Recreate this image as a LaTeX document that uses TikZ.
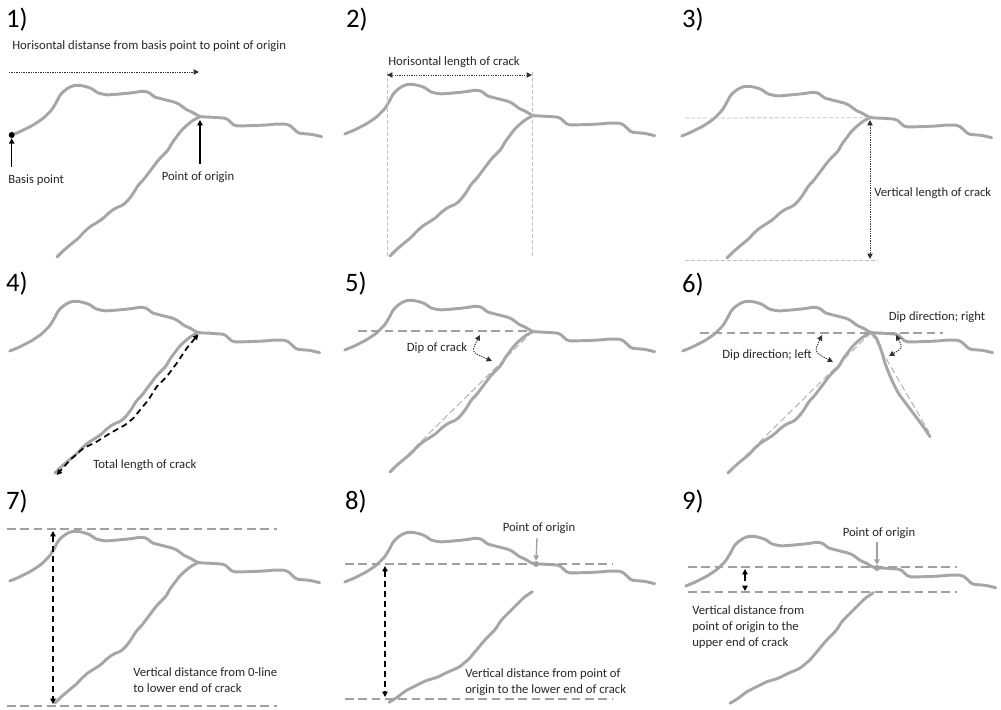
\documentclass[tikz,border=0pt]{standalone}
\usepackage{fontspec}
\setmainfont{Carlito}
\usetikzlibrary{arrows.meta}
\definecolor{crackgray}{RGB}{166,166,166}
\definecolor{guidegray}{RGB}{160,160,160}
\definecolor{lightguide}{RGB}{192,192,192}
\definecolor{txtcol}{RGB}{38,38,38}
\tikzset{
  surface/.pic={\draw[crack] (11.7,135) -- (20,131.7) -- (33.3,125) -- (43.3,118.3) -- (51.7,110) -- (56.7,101.7) -- (60,95) -- (65,90) -- (71.7,86) -- (78.3,85) -- (86.7,86.7) -- (93.3,89.3) -- (96.7,92.7) -- (106.7,95) -- (116.7,94.3) -- (133.3,92.7) -- (143.3,91) -- (150,92.7) -- (153.3,96.7) -- (163.3,99.3) -- (176.7,102.7) -- (181.7,106) -- (186.7,110) -- (191.7,111.7) -- (196.7,115) -- (200,116.7) -- (213.3,117.3) -- (226.7,118.3) -- (230,121.7) -- (235,126) -- (250,125.7) -- (266.7,125) -- (276.7,124) -- (288.3,124.3) -- (293.3,128.3) -- (298.3,133.3) -- (311.7,134.3) -- (321.7,136.7);},
  longcrack/.pic={\draw[crack] (200,116.7) -- (193.3,120) -- (188.3,124) -- (181.7,130) -- (176.7,136.7) -- (171.7,143.3) -- (168.3,150) -- (163.3,155) -- (158.3,160) -- (153.3,166.7) -- (148.3,173.3) -- (143.3,180) -- (138.3,185) -- (133.3,193.3) -- (128.3,200) -- (123.3,205) -- (115,208.3) -- (108.3,213.3) -- (103.3,218.3) -- (96.7,222.7) -- (90,226.7) -- (83.3,232.7) -- (78.3,238.3) -- (70,245) -- (63,251) -- (57,257);},
  shortcrack/.pic={\draw[crack] (199.3,141.7) -- (191,147.3) -- (182.7,155.7) -- (174.3,164) -- (167.7,170.7) -- (162.7,179) -- (152.7,189) -- (144.3,199) -- (136,209) -- (126,217.3) -- (114.3,222.3) -- (104.3,227.3) -- (92.7,230.7) -- (82.7,235.7) -- (72.7,240.7) -- (64.3,247.3) -- (56,252.3);},
  rightcrack/.pic={\draw[crack] (200,116.7) -- (205.7,122.3) -- (209,130.7) -- (211.7,139) -- (214,147.3) -- (217.3,155.7) -- (220.7,164) -- (224,170.7) -- (227.3,177.3) -- (232.3,184) -- (237.3,190.7) -- (242.3,197.3) -- (247.3,204) -- (252.3,210.7) -- (255.7,215.7) -- (259,220.7);}
}
\begin{document}
\begin{tikzpicture}[x=0.75pt,y=-0.75pt,
  >={Triangle[length=4pt,width=4pt]},
  crack/.style={draw=crackgray,line width=2.2pt,line join=round,line cap=round,rounded corners=1.5pt},
  guide/.style={draw=guidegray,line width=1.1pt,dash pattern=on 6.5pt off 3.5pt},
  fineguide/.style={draw=lightguide,line width=0.6pt,dash pattern=on 3pt off 1.5pt},
  slope/.style={draw=guidegray!85,line width=0.7pt,dash pattern=on 5pt off 2.5pt},
  dotarrow/.style={draw=black!80,line width=0.7pt,dash pattern=on 1pt off 0.8pt},
  bdash/.style={draw=black,line width=1.3pt,dash pattern=on 4.5pt off 3pt},
  solidarrow/.style={draw=black,line width=1.1pt,->},
  grayarrow/.style={draw=guidegray,line width=1pt,->},
  lbl/.style={font=\fontsize{9.5pt}{12pt}\selectfont,text=txtcol,inner sep=0pt,align=left},
  num/.style={font=\fontsize{20pt}{24pt}\selectfont,inner sep=0pt},
  dot/.style={circle,inner sep=0pt,minimum size=4.5pt}]
\useasboundingbox (0,0) rectangle (1001,710);

% ---------- 1) horizontal distance from basis point ----------
\pic at (0,0) {surface};
\pic at (0,0) {longcrack};
\coordinate (po1) at (200,116.7);
\node[num] (n1) at (17,20) {1)};
\node[lbl,anchor=west] (t1) at (12,46) {Horisontal distanse from basis point to point of origin};
\coordinate (h1a) at (9,72);
\coordinate (h1b) at (199,72);
\draw[dotarrow,->] (h1a) -- (h1b);
\node[dot,fill=black] (bp) at (11.7,135) {};
\coordinate (bpa) at (11.7,167);
\draw[solidarrow] (bpa) -- (bp.south);
\node[lbl,anchor=west] (t1b) at (8,180) {Basis point};
\node[lbl] (t1c) at (198,177) {Point of origin};
\coordinate (poa1) at (200,164);
\coordinate (pob1) at (200,120);
\draw[solidarrow] (poa1) -- (pob1);

% ---------- 2) horizontal length ----------
\pic at (333,-1) {surface};
\pic at (333,-1) {longcrack};
\node[num] (n2) at (357,20) {2)};
\node[lbl] (t2) at (454,62) {Horisontal length of crack};
\coordinate (v2a) at (387,72);
\coordinate (v2b) at (387,258);
\coordinate (v2c) at (532,72);
\coordinate (v2d) at (532,258);
\draw[fineguide] (v2a) -- (v2b);
\draw[fineguide] (v2c) -- (v2d);
\coordinate (h2a) at (387,75);
\coordinate (h2b) at (532,75);
\draw[dotarrow,<->] (h2a) -- (h2b);

% ---------- 3) vertical length ----------
\pic at (670,1) {surface};
\pic at (670,1) {longcrack};
\coordinate (po3) at (870,117.7);
\node[num] (n3) at (693,20) {3)};
\coordinate (g3a) at (685,118);
\draw[fineguide] (g3a) -- (po3);
\coordinate (g3b) at (685,260.7);
\coordinate (g3c) at (878,260.7);
\draw[fineguide] (g3b) -- (g3c);
\coordinate (v3a) at (870,120);
\coordinate (v3b) at (870,259);
\draw[dotarrow,<->] (v3a) -- (v3b);
\node[lbl,anchor=west] (t3) at (874,193) {Vertical length of crack};

% ---------- 4) total length ----------
\pic at (-2,216) {surface};
\pic at (-2,216) {longcrack};
\node[num] (n4) at (17,284) {4)};
\coordinate (L4a) at (198.3,334.3);
\coordinate (L4b) at (56.7,475);
\draw[bdash,<->] (L4a) -- (186.7,348.3) -- (176.7,363.3) -- (166.7,376.7) -- (156.7,386.7) -- (148.3,400) -- (140,410) -- (133.3,418.3) -- (125,425) -- (110,433.3) -- (96.7,441.7) -- (83.3,448.3) -- (70,460) -- (L4b);
\node[lbl,anchor=west] (t4) at (93,465) {Total length of crack};

% ---------- 5) dip ----------
\pic at (333,215) {surface};
\pic at (333,215) {longcrack};
\coordinate (po5) at (533,331);
\coordinate (ce5) at (390,472);
\node[num] (n5) at (356,284) {5)};
\coordinate (g5a) at (358,331);
\draw[guide] (g5a) -- (po5);
\draw[slope] (po5) -- (ce5);
\coordinate (d5a) at (480,335);
\coordinate (d5b) at (492,361);
\draw[dotarrow,<->] (d5a) .. controls (471,352) .. (d5b);
\node[lbl] (t5) at (437,348) {Dip of crack};

% ---------- 6) dip direction ----------
\pic at (671,216) {surface};
\pic at (671,216) {longcrack};
\pic at (671,216) {rightcrack};
\coordinate (po6) at (871,332.7);
\coordinate (ce6) at (728,473);
\coordinate (re6) at (929,432);
\node[num] (n6) at (693,285) {6)};
\coordinate (g6a) at (700,333);
\coordinate (g6b) at (943,333);
\draw[guide] (g6a) -- (g6b);
\draw[slope] (po6) -- (ce6);
\draw[slope] (po6) -- (re6);
\coordinate (d6a) at (822,335);
\coordinate (d6b) at (833,362);
\draw[dotarrow,<->] (d6a) .. controls (814,352) .. (d6b);
\coordinate (d6c) at (896,335);
\coordinate (d6d) at (889,356);
\draw[dotarrow,<->] (d6c) .. controls (903,348) .. (d6d);
\node[lbl] (t6a) at (767,355) {Dip direction; left};
\node[lbl] (t6b) at (937,317) {Dip direction; right};

% ---------- 7) distance from 0-line ----------
\pic at (-2,446) {surface};
\pic at (-2,446) {longcrack};
\node[num] (n7) at (17,502) {7)};
\coordinate (g7a) at (7,529);
\coordinate (g7b) at (277,529);
\coordinate (g7c) at (7,706);
\coordinate (g7d) at (277,706);
\draw[guide] (g7a) -- (g7b);
\draw[guide] (g7c) -- (g7d);
\coordinate (v7a) at (53,531);
\coordinate (v7b) at (53,704);
\draw[bdash,<->] (v7a) -- (v7b);
\node[lbl,anchor=west] (t7) at (133,680) {Vertical distance from 0-line\\to lower end of crack};

% ---------- 8) origin to lower end ----------
\pic at (333,447) {surface};
\pic at (333,450) {shortcrack};
\node[num] (n8) at (356,502) {8)};
\node[lbl] (t8a) at (539,528) {Point of origin};
\node[dot,fill=guidegray] (o8) at (536,564) {};
\coordinate (a8) at (537,538);
\draw[grayarrow] (a8) -- (o8.north);
\coordinate (g8a) at (345,564);
\coordinate (g8b) at (613,564);
\coordinate (g8c) at (345,699);
\coordinate (g8d) at (613,699);
\draw[guide] (g8a) -- (g8b);
\draw[guide] (g8c) -- (g8d);
\coordinate (v8a) at (385,566);
\coordinate (v8b) at (385,697);
\draw[bdash,<->] (v8a) -- (v8b);
\node[lbl,anchor=west] (t8b) at (465,682) {Vertical distance from point of\\origin to the lower end of crack};

% ---------- 9) origin to upper end ----------
\pic at (674,451) {surface};
\pic at (674,451) {shortcrack};
\node[num] (n9) at (693,502) {9)};
\node[lbl] (t9a) at (879,533) {Point of origin};
\node[dot,fill=guidegray] (o9) at (877,568) {};
\coordinate (a9) at (877,542);
\draw[grayarrow] (a9) -- (o9.north);
\coordinate (g9a) at (688,567);
\coordinate (g9b) at (957,567);
\coordinate (g9c) at (688,592);
\coordinate (g9d) at (957,592);
\draw[guide] (g9a) -- (g9b);
\draw[guide] (g9c) -- (g9d);
\coordinate (v9a) at (745,569);
\coordinate (v9b) at (745,591);
\draw[draw=black,line width=1.3pt,dash pattern=on 5.5pt off 5pt,<->] (v9a) -- (v9b);
\node[lbl,anchor=west] (t9b) at (692,627) {Vertical distance from\\point of origin to the\\upper end of crack};
\end{tikzpicture}
\end{document}
